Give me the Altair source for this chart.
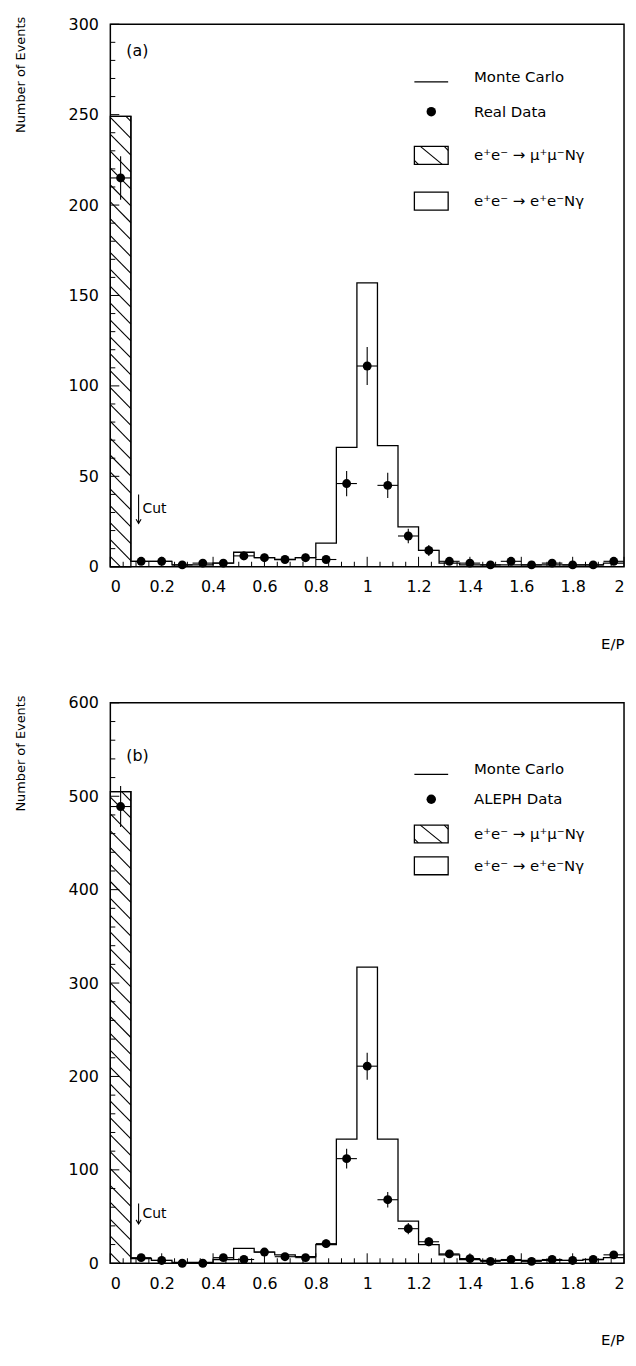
import altair as alt
import pandas as pd

# ---------------- data ----------------
CENTERS = [0.04, 0.12, 0.20, 0.28, 0.36, 0.44, 0.52, 0.60, 0.68, 0.76,
           0.84, 0.92, 1.00, 1.08, 1.16, 1.24, 1.32, 1.40, 1.48, 1.56,
           1.64, 1.72, 1.80, 1.88, 1.96]
BIN_W = 0.08

# panel (a)
MC_A = [249, 3, 3, 1, 1, 2, 8, 5, 4, 5, 13, 66, 157, 67, 22, 9, 2, 1, 1, 1, 1, 1, 1, 1, 2]
DATA_A = [215, 3, 3, 1, 2, 2, 6, 5, 4, 5, 4, 46, 111, 45, 17, 9, 3, 2, 1, 3, 1, 2, 1, 1, 3]
ERR_A = [12, 1.8, 1.8, 1, 1.4, 1.4, 2.4, 2.2, 2, 2.2, 2, 7, 10.5, 7, 4, 3, 1.7, 1.4, 1, 1.7, 1, 1.4, 1, 1, 1.7]

# panel (b)
MC_B = [505, 5, 3, 1, 1, 4, 16, 12, 9, 7, 20, 133, 317, 133, 45, 20, 9, 4, 3, 3, 3, 3, 3, 4, 6]
DATA_B = [489, 6, 3, 0, 0, 6, 4, 12, 7, 6, 21, 112, 211, 68, 37, 23, 10, 5, 2, 4, 2, 4, 3, 4, 9]
ERR_B = [22, 2.4, 1.7, 0, 0, 2.4, 2, 3.5, 2.6, 2.4, 4.6, 10.5, 14.5, 8.2, 6, 4.8, 3.2, 2.2, 1.4, 2, 1.4, 2, 1.7, 2, 3]

X_LABELS = [0, 0.2, 0.4, 0.6, 0.8, 1.0, 1.2, 1.4, 1.6, 1.8, 2.0]
Y_LABELS_A = [0, 50, 100, 150, 200, 250, 300]
Y_LABELS_B = [0, 100, 200, 300, 400, 500, 600]

LEG_TEXT_A = ["Monte Carlo", "Real Data", "e\u207ae\u207b \u2192 \u03bc\u207a\u03bc\u207bN\u03b3", "e\u207ae\u207b \u2192 e\u207ae\u207bN\u03b3"]
LEG_TEXT_B = ["Monte Carlo", "ALEPH Data", "e\u207ae\u207b \u2192 \u03bc\u207a\u03bc\u207bN\u03b3", "e\u207ae\u207b \u2192 e\u207ae\u207bN\u03b3"]

# ---------------- style ----------------
W = 517
FONT = "DejaVu Sans"
LW = 1.3


def one():
    return alt.InlineData(values=[{}])


def panel(mc, data, err, ymax, major, minor, y_labels, tag, tag_y, leg_text, leg_rows,
          cut_top, cut_tip, cut_text_y, H):
    xs = alt.Scale(domain=[0, 2], nice=False, zero=False)
    ys = alt.Scale(domain=[0, ymax], nice=False)
    ax_x = alt.Axis(values=X_LABELS, format="~g", ticks=False, domain=False, grid=False,
                    labelFontSize=16, labelPadding=12, labelFont=FONT, labelColor="black",
                    title="E/P", titleAnchor="end", titleFontSize=15, titleFont=FONT,
                    titleFontWeight="normal", titlePadding=42, titleColor="black")
    ax_y = alt.Axis(values=y_labels, ticks=False, domain=False, grid=False,
                    labelFontSize=16, labelPadding=12, labelFont=FONT, labelColor="black",
                    title="Number of Events", titleAnchor="end", titleFontSize=13, titleFont=FONT,
                    titleFontWeight="normal", titlePadding=41, titleColor="black", titleY=-8)

    def X(f):
        return alt.X(f, scale=xs, axis=ax_x)

    def Y(f):
        return alt.Y(f, scale=ys, axis=ax_y)

    df = pd.DataFrame({"c": CENTERS, "mc": mc, "v": data, "e": err})
    df["lo"] = df["c"] - BIN_W / 2
    df["hi"] = df["c"] + BIN_W / 2
    df["elo"] = df["v"] - df["e"]
    df["ehi"] = df["v"] + df["e"]

    step = pd.DataFrame({"x": list(df["lo"]) + [2.0], "y": list(mc) + [mc[-1]]})

    h0 = mc[0]
    bar0 = pd.DataFrame({"lo": [0.0], "hi": [BIN_W], "v": [h0], "z": [0]})
    ppu = H / ymax
    st = 17 / ppu
    dr = 21 / ppu
    rows = []
    y0 = st * 0.6
    while y0 - dr < h0:
        xs0, ys0, xe0, ye0 = 0.0, y0, BIN_W, y0 - dr
        if ys0 > h0:
            xs0 = (y0 - h0) / dr * BIN_W
            ys0 = h0
        if ye0 < 0:
            xe0 = y0 / dr * BIN_W
            ye0 = 0.0
        if xe0 > xs0:
            rows.append({"x0": xs0, "x1": xe0, "y0": ys0, "y1": ye0})
        y0 += st
    hatch = pd.DataFrame(rows)

    bar = alt.Chart(bar0).mark_rect(fill="white", stroke="black", strokeWidth=LW).encode(
        x=X("lo:Q"), x2="hi:Q", y=Y("v:Q"), y2="z:Q")
    hat = alt.Chart(hatch).mark_rule(color="black", strokeWidth=1.1).encode(
        x=X("x0:Q"), x2="x1:Q", y=Y("y0:Q"), y2="y1:Q")
    line = alt.Chart(step).mark_line(interpolate="step-after", color="black", strokeWidth=LW).encode(
        x=X("x:Q"), y=Y("y:Q"))
    ev = alt.Chart(df).mark_rule(color="black", strokeWidth=1.1).encode(
        x=X("c:Q"), y=Y("elo:Q"), y2="ehi:Q")
    eh = alt.Chart(df).mark_rule(color="black", strokeWidth=1.1).encode(
        x=X("lo:Q"), x2="hi:Q", y=Y("v:Q"))
    dots = alt.Chart(df).mark_circle(color="black", opacity=1, size=80).encode(
        x=X("c:Q"), y=Y("v:Q"))

    ymaj = pd.DataFrame({"t": y_labels})
    ymin = pd.DataFrame({"t": [v for v in range(0, ymax + 1, minor) if v % major != 0]})
    xmaj = pd.DataFrame({"t": X_LABELS})
    xmin = pd.DataFrame({"t": [round(i * 0.05, 2) for i in range(41) if i % 4 != 0]})
    tyM = alt.Chart(ymaj).mark_rule(color="black", strokeWidth=1).encode(
        y=Y("t:Q"), x=alt.value(0), x2=alt.value(9))
    tym = alt.Chart(ymin).mark_rule(color="black", strokeWidth=1).encode(
        y=Y("t:Q"), x=alt.value(0), x2=alt.value(5))
    txM = alt.Chart(xmaj).mark_rule(color="black", strokeWidth=1).encode(
        x=X("t:Q"), y=alt.value(H), y2=alt.value(H - 10))
    txm = alt.Chart(xmin).mark_rule(color="black", strokeWidth=1).encode(
        x=X("t:Q"), y=alt.value(H), y2=alt.value(H - 5))

    cut = pd.DataFrame({"x": [0.11], "top": [cut_top], "tip": [cut_tip], "ty": [cut_text_y], "tx": [0.125]})
    cut_rule = alt.Chart(cut).mark_rule(color="black", strokeWidth=1.1).encode(
        x=X("x:Q"), y=Y("top:Q"), y2="tip:Q")
    cut_head = alt.Chart(cut).mark_point(shape="M-0.6,-1L0,0L0.6,-1", filled=False, stroke="black",
                                         strokeWidth=1.1, size=70, opacity=1).encode(
        x=X("x:Q"), y=Y("tip:Q"))
    cut_txt = alt.Chart(cut).mark_text(text="Cut", align="left", baseline="middle", font=FONT,
                                       fontSize=14, color="black").encode(
        x=X("tx:Q"), y=Y("ty:Q"))

    tag_t = alt.Chart(one()).mark_text(align="left", baseline="middle", font=FONT, fontSize=16,
                                       color="black").encode(
        x=alt.value(16), y=alt.value(tag_y), text=alt.value(tag))

    sx0, sx1, tx = 306, 340, 366
    r_mc, r_dat, r_mu, r_ee = leg_rows
    leg = []
    for txt, r in zip(leg_text, leg_rows):
        leg.append(alt.Chart(one()).mark_text(align="left", baseline="middle", font=FONT, fontSize=15,
                                              color="black").encode(
            x=alt.value(tx), y=alt.value(r), text=alt.value(txt)))
    leg.append(alt.Chart(one()).mark_rule(color="black", strokeWidth=LW).encode(
        x=alt.value(sx0), x2=alt.value(sx1), y=alt.value(r_mc + 5)))
    leg.append(alt.Chart(one()).mark_circle(color="black", opacity=1, size=90).encode(
        x=alt.value((sx0 + sx1) / 2), y=alt.value(r_dat)))
    for r in (r_mu, r_ee):
        leg.append(alt.Chart(one()).mark_rect(fill="white", stroke="black", strokeWidth=LW).encode(
            x=alt.value(sx0), x2=alt.value(sx1), y=alt.value(r - 9), y2=alt.value(r + 9)))
    leg.append(alt.Chart(one()).mark_rule(color="black", strokeWidth=1.1).encode(
        x=alt.value(sx0 + 6), x2=alt.value(sx1 - 6), y=alt.value(r_mu - 9), y2=alt.value(r_mu + 9)))
    leg.append(alt.Chart(one()).mark_rule(color="black", strokeWidth=1.1).encode(
        x=alt.value(sx0), x2=alt.value(sx0 + 4), y=alt.value(r_mu + 5), y2=alt.value(r_mu + 9)))
    leg.append(alt.Chart(one()).mark_rule(color="black", strokeWidth=1.1).encode(
        x=alt.value(sx1 - 4), x2=alt.value(sx1), y=alt.value(r_mu - 9), y2=alt.value(r_mu - 5)))

    return alt.layer(bar, hat, line, ev, eh, dots, tyM, tym, txM, txm,
                     cut_rule, cut_head, cut_txt, tag_t, *leg).properties(width=W, height=H)


top = panel(MC_A, DATA_A, ERR_A, 300, 50, 10, Y_LABELS_A, "(a)", 27, LEG_TEXT_A,
            (53, 88, 132, 178), 40, 24, 32, 546)
bot = panel(MC_B, DATA_B, ERR_B, 600, 100, 20, Y_LABELS_B, "(b)", 54, LEG_TEXT_B,
            (67, 97, 132, 164), 64, 42, 53, 564)

chart = alt.vconcat(top, bot, spacing=42).properties(
    padding={"left": 5, "top": 3, "right": 0, "bottom": 0}
).configure_view(stroke="black", strokeWidth=1.5).configure_concat(spacing=42)

chart.save("out.html", embed_options={"renderer": "svg", "actions": False})
